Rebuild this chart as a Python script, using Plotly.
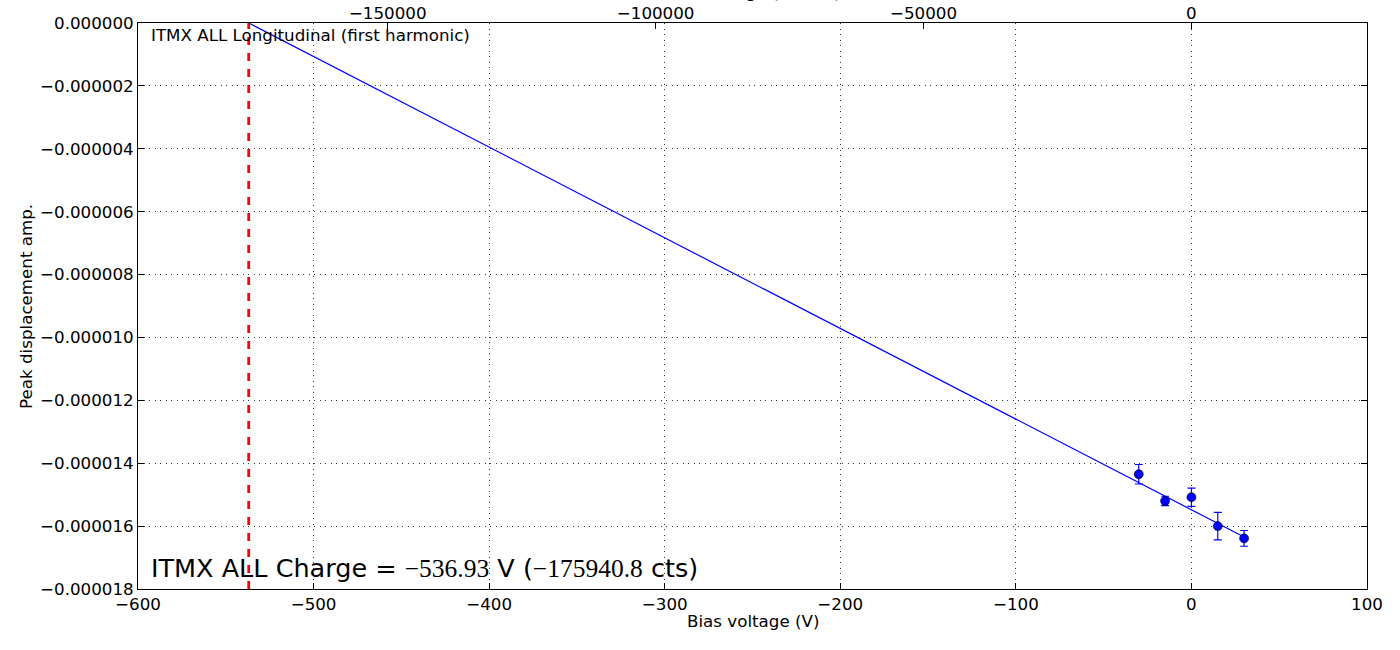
import plotly.graph_objects as go

# ---- data ----
bias_v = [-30, -15, 0, 15, 30]
peak_amp = [-1.435e-5, -1.520e-5, -1.508e-5, -1.600e-5, -1.639e-5]
peak_err = [0.31e-6, 0.15e-6, 0.29e-6, 0.44e-6, 0.25e-6]

charge_v = -536.93
charge_cts = -175940.8
cts_per_volt = 327.68
fit_intercept = -1.548e-5
fit_slope = -fit_intercept / charge_v
fit_x = [charge_v, max(bias_v)]
fit_y = [fit_intercept + fit_slope * x for x in fit_x]

x_range = [-600, 100]
y_range = [-0.000018, 0.0]
x_ticks = [-600, -500, -400, -300, -200, -100, 0, 100]
y_ticks = [-0.000018, -0.000016, -0.000014, -0.000012, -0.000010, -0.000008,
           -0.000006, -0.000004, -0.000002, 0.0]
top_ticks = [-150000, -100000, -50000, 0]

def fmt_minus(s):
    return s.replace("-", "\u2212")

y_ticktext = [fmt_minus(f"{v:.6f}") if v != 0 else "0.000000" for v in y_ticks]
x_ticktext = [fmt_minus(str(v)) for v in x_ticks]
top_ticktext = [fmt_minus(str(v)) for v in top_ticks]

FONT = "DejaVu Sans"
FS = 16.7
BLUE = "#0000ff"

fig = go.Figure()

# fitted line
fig.add_trace(go.Scatter(x=fit_x, y=fit_y, mode="lines",
                         line=dict(color=BLUE, width=1.2),
                         showlegend=False, hoverinfo="skip"))

# data with error bars
fig.add_trace(go.Scatter(
    x=bias_v, y=peak_amp, mode="markers",
    marker=dict(color=BLUE, size=9, line=dict(color="black", width=0.6)),
    error_y=dict(type="data", array=peak_err, visible=True,
                 color=BLUE, thickness=1.2, width=4),
    showlegend=False))

# charge line
fig.add_trace(go.Scatter(x=[charge_v, charge_v], y=y_range, mode="lines",
                         line=dict(color="red", width=2.8, dash="8px,8px"),
                         showlegend=False, hoverinfo="skip"))

# invisible trace on top (counts) axis
fig.add_trace(go.Scatter(x=[v * cts_per_volt for v in bias_v], y=peak_amp,
                         xaxis="x2", mode="markers",
                         marker=dict(opacity=0), showlegend=False,
                         hoverinfo="skip"))

grid = dict(showgrid=True, gridcolor="#333333", gridwidth=0.7,
            griddash="1.2px,4.3px")

fig.update_layout(
    width=1400, height=650,
    margin=dict(l=138, r=33, t=23, b=61),
    paper_bgcolor="white", plot_bgcolor="white",
    font=dict(family=FONT, size=FS, color="black"),
    xaxis=dict(range=x_range, tickvals=x_ticks, ticktext=x_ticktext,
               ticks="inside", ticklen=6, tickcolor="black",
               showline=True, linecolor="black", linewidth=1, mirror=True,
               zeroline=False, automargin=False, **grid),
    yaxis=dict(range=y_range, tickvals=y_ticks, ticktext=y_ticktext,
               ticks="inside", ticklen=6, tickcolor="black",
               showline=True, linecolor="black", linewidth=1, mirror="ticks",
               zeroline=False, automargin=False, **grid),
    xaxis2=dict(range=[x_range[0] * cts_per_volt, x_range[1] * cts_per_volt],
                overlaying="x", side="top", anchor="y",
                tickvals=top_ticks, ticktext=top_ticktext,
                ticks="inside", ticklen=6, tickcolor="black",
                showgrid=False, zeroline=False, showline=False,
                automargin=False),
)

annotations = [
    dict(text="ITMX ALL Longitudinal (first harmonic)", xref="paper", yref="paper",
         x=0.0092, y=0.978, xanchor="left", yanchor="middle",
         showarrow=False, font=dict(size=FS)),
    dict(text=("ITMX ALL Charge = "
               f"<span style='font-family:Liberation Serif'>{fmt_minus(f'{charge_v:.2f}')}</span>"
               " V ("
               f"<span style='font-family:Liberation Serif'>{fmt_minus(f'{charge_cts:.1f}')}</span>"
               " cts)"),
         xref="paper", yref="paper", x=0.0092, y=0.037,
         xanchor="left", yanchor="middle", showarrow=False, font=dict(size=25.5)),
    dict(text="Bias voltage (V)", xref="paper", yref="paper",
         x=0.5, y=-0.0565, xanchor="center", yanchor="middle",
         showarrow=False, font=dict(size=FS)),
    dict(text="Peak displacement amp.", xref="paper", yref="paper",
         x=-0.0912, y=0.5, xanchor="center", yanchor="middle", textangle=-90,
         showarrow=False, font=dict(size=FS)),
    dict(text="Bias voltage (counts)", xref="paper", yref="paper",
         x=0.5, y=1.0336, xanchor="center", yanchor="bottom",
         showarrow=False, font=dict(size=FS)),
]
fig.update_layout(annotations=annotations)

fig.write_html("out.html", config={"displayModeBar": False},
               post_script="document.body.style.margin='0';document.body.style.padding='0';")
